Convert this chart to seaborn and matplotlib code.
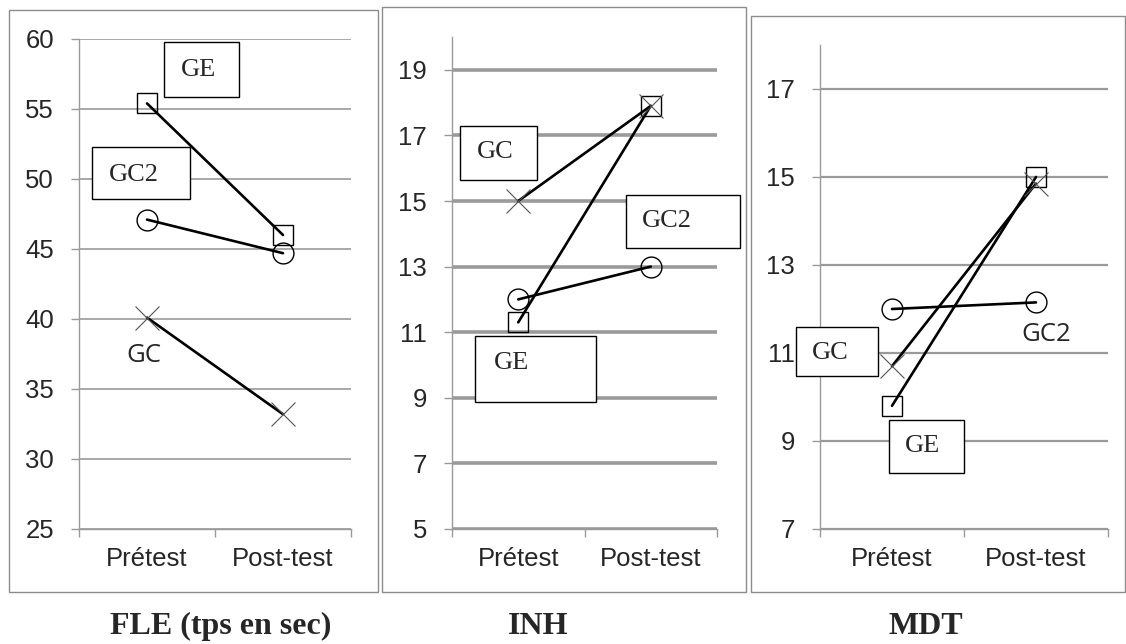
import pandas as pd
import matplotlib
matplotlib.use("Agg")
import matplotlib.pyplot as plt
from matplotlib.patches import Rectangle
import seaborn as sns


# 1. Data (group means)

tests = ["Prétest", "Post-test"]
groups = ["GE", "GC2", "GC"]

fle_ge = [55.4, 46.0]
fle_gc2 = [47.1, 44.7]
fle_gc = [40.1, 33.2]

inh_ge = [11.3, 17.9]
inh_gc2 = [12.0, 13.0]
inh_gc = [15.0, 17.9]

mdt_ge = [9.8, 15.0]
mdt_gc2 = [12.0, 12.15]
mdt_gc = [10.7, 14.85]

panel_names = ["FLE (tps en sec)", "INH", "MDT"]
fle_ticks = list(range(25, 61, 5))
inh_ticks = list(range(5, 20, 2))
mdt_ticks = list(range(7, 18, 2))

values = {
    "FLE (tps en sec)": {"GE": fle_ge, "GC2": fle_gc2, "GC": fle_gc},
    "INH": {"GE": inh_ge, "GC2": inh_gc2, "GC": inh_gc},
    "MDT": {"GE": mdt_ge, "GC2": mdt_gc2, "GC": mdt_gc},
}

rows = []
for p in panel_names:
    for g in groups:
        for i, t in enumerate(tests):
            rows.append({"panel": p, "group": g, "test": t, "pos": i, "score": values[p][g][i]})
df = pd.DataFrame(rows)


# 2. Layout (pixels on a 1126x644 canvas)

W, H = 1126, 644
sns.set_style("white")
plt.rcParams["font.family"] = ["Liberation Sans", "DejaVu Sans"]

fig = plt.figure(figsize=(W / 100, H / 100), dpi=100)

layout = {
    "FLE (tps en sec)": dict(ax=(79, 39, 351, 529), frame=(9, 10, 378, 592), ylim=(25, 60),
                             ticks=fle_ticks, grid_lw=1.2, title_x=221),
    "INH": dict(ax=(452, 37, 717, 529), frame=(382, 7, 746, 592), ylim=(5, 20),
                ticks=inh_ticks, grid_lw=2.6, title_x=538),
    "MDT": dict(ax=(820, 45, 1108, 529), frame=(751, 16, 1125, 592), ylim=(7, 18),
                ticks=mdt_ticks, grid_lw=1.6, title_x=926),
}

# group labels: text, x, y, box (x0, x1, y0, y1) or None
labels = {
    "FLE (tps en sec)": [("GE", 0.38, 57.8, (0.125, 0.676, 55.86, 59.8)),
                         ("GC2", -0.10, 50.3, (-0.404, 0.316, 48.6, 52.3)),
                         ("GC", -0.02, 37.4, None)],
    "INH": [("GC", -0.17, 16.5, (-0.44, 0.14, 15.65, 17.29)),
            ("GC2", 1.12, 14.4, (0.81, 1.67, 13.57, 15.19)),
            ("GE", -0.05, 10.05, (-0.33, 0.59, 8.88, 10.89))],
    "MDT": [("GC", -0.43, 11.0, (-0.67, -0.10, 10.48, 11.59)),
            ("GE", 0.215, 8.88, (-0.02, 0.5, 8.27, 9.48)),
            ("GC2", 1.07, 11.43, None)],
}

marker_style = {
    "GE": dict(marker="s", markersize=14, markeredgecolor="black", markeredgewidth=1.0),
    "GC2": dict(marker="o", markersize=15, markeredgecolor="black", markeredgewidth=1.0),
    "GC": dict(marker="x", markersize=17, markeredgecolor="#555555", markeredgewidth=0.8),
}

grid_color = "#9a9a9a"

for p in panel_names:
    cfg = layout[p]
    l, t, r, b = cfg["ax"]
    ax = fig.add_axes([l / W, 1 - b / H, (r - l) / W, (b - t) / H])

    # frame around each panel
    fl, ft, fr, fb = cfg["frame"]
    fig.patches.append(Rectangle((fl / W, 1 - fb / H), (fr - fl) / W, (fb - ft) / H,
                                 transform=fig.transFigure, fill=False,
                                 edgecolor="#8c8c8c", linewidth=1.0))

    sub = df[df["panel"] == p]
    for g in groups:
        d = sub[sub["group"] == g]
        sns.lineplot(data=d, x="pos", y="score", ax=ax, color="black", linewidth=1.9,
                     sort=False, errorbar=None, markerfacecolor="none", zorder=3,
                     **marker_style[g])

    ax.set_xlim(-0.5, 1.5)
    ax.set_ylim(*cfg["ylim"])
    ax.set_yticks(cfg["ticks"])
    ax.set_xticks(range(len(tests)))
    ax.set_xticklabels(tests)
    ax.set_xticks([-0.5, 0.5, 1.5], minor=True)
    ax.set_xlabel("")
    ax.set_ylabel("")

    ax.yaxis.grid(True, color=grid_color, linewidth=cfg["grid_lw"])
    ax.set_axisbelow(True)
    for s in ["top", "right"]:
        ax.spines[s].set_visible(False)
    for s in ["left", "bottom"]:
        ax.spines[s].set_color(grid_color)
        ax.spines[s].set_linewidth(1.0)

    ax.tick_params(axis="y", which="major", length=6, width=1, color=grid_color,
                   direction="out", pad=12, labelsize=18.5, left=True)
    ax.tick_params(axis="x", which="major", length=0, pad=13, labelsize=18.5)
    ax.tick_params(axis="x", which="minor", length=6, width=1, color=grid_color,
                   direction="out", bottom=True)

    for txt, x, y, box in labels[p]:
        if box is None:
            ax.text(x, y, txt, ha="center", va="center", fontsize=18.5,
                    family=["Open Sans", "DejaVu Sans"], zorder=6, clip_on=False)
        else:
            x0, x1, y0, y1 = box
            ax.add_patch(Rectangle((x0, y0), x1 - x0, y1 - y0, facecolor="white",
                                   edgecolor="black", linewidth=1.0, zorder=5, clip_on=False))
            ax.text(x, y, txt, ha="center", va="center", fontsize=19,
                    family=["Liberation Serif", "DejaVu Serif"], zorder=6, clip_on=False)

    fig.text(cfg["title_x"] / W, 1 - 626 / H, p, ha="center", va="center", fontsize=23,
             fontweight="bold", family=["Liberation Serif", "DejaVu Serif"])

fig.savefig("out.png", dpi=100)
